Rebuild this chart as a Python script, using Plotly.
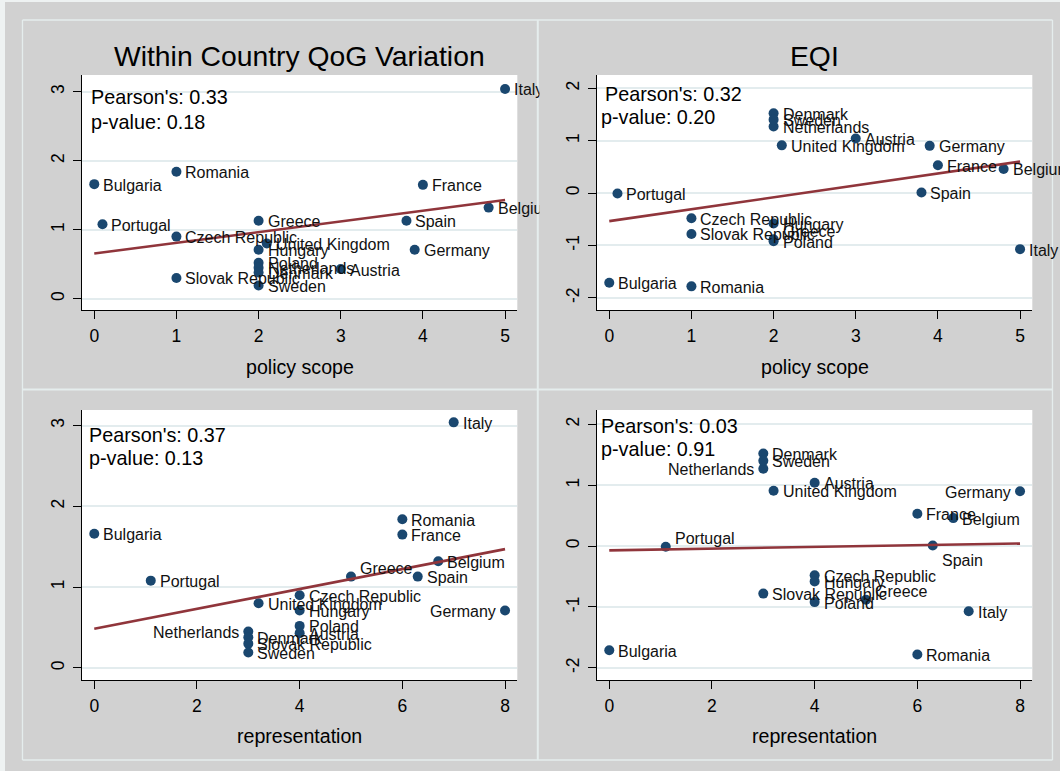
import numpy as np
import plotly.graph_objects as go

# ---------------- data ----------------
countries = ["Italy", "Romania", "Bulgaria", "France", "Belgium", "Greece", "Spain",
             "Portugal", "Czech Republic", "United Kingdom", "Hungary", "Germany",
             "Poland", "Netherlands", "Austria", "Denmark", "Slovak Republic", "Sweden"]
qog_variation = [3.04, 1.84, 1.66, 1.65, 1.32, 1.13, 1.13, 1.08, 0.90, 0.80, 0.71, 0.71,
                 0.52, 0.45, 0.43, 0.38, 0.30, 0.19]
eqi = [-1.07, -1.78, -1.71, 0.53, 0.46, -0.88, 0.01, -0.01, -0.48, 0.91, -0.58, 0.90,
       -0.92, 1.27, 1.04, 1.52, -0.78, 1.40]
policy_scope = [5, 1, 0, 4, 4.8, 2, 3.8, 0.1, 1, 2.1, 2, 3.9, 2, 2, 3, 2, 1, 2]
representation = [7, 6, 0, 6, 6.7, 5, 6.3, 1.1, 4, 3.2, 4, 8, 4, 3, 4, 3, 3, 3]

panel_titles = ["Within Country QoG Variation", "EQI", "", ""]
x_titles = ["policy scope", "policy scope", "representation", "representation"]
pearson_r = ["0.33", "0.32", "0.37", "0.03"]
p_values = ["0.18", "0.20", "0.13", "0.91"]
x_ticks_scope = [0, 1, 2, 3, 4, 5]
x_ticks_repr = [0, 2, 4, 6, 8]
y_ticks_qog = [0, 1, 2, 3]
y_ticks_eqi = [-2, -1, 0, 1, 2]

# ---------------- style / layout ----------------
W, H = 1060, 771
BG = "#d1d1d1"
BORDER = "#e5eded"
NAVY = "#1a476f"
MAROON = "#90353b"
GRID = "#e3ecee"
FONT = "Liberation Sans, Arial, sans-serif"


def px(v):
    return v / W


def py(v):
    return 1 - v / H


panels = [
    dict(x=policy_scope, y=qog_variation, xt=x_ticks_scope, yt=y_ticks_qog,
         xdom=(81.7, 517.3), ydom=(75, 310), xr=(-0.153, 5.149), yr=(-0.164, 3.242),
         pear=((88.8, 96.5), (88.8, 121.5)), title_y=56, xt_y=366.5),
    dict(x=policy_scope, y=eqi, xt=x_ticks_scope, yt=y_ticks_eqi,
         xdom=(596.7, 1032.3), ydom=(75, 310), xr=(-0.153, 5.149), yr=(-2.231, 2.252),
         pear=((602.8, 94.2), (599.3, 117.1)), title_y=56, xt_y=366.5),
    dict(x=representation, y=qog_variation, xt=x_ticks_repr, yt=y_ticks_qog,
         xdom=(81.7, 517.3), ydom=(410, 680), xr=(-0.245, 8.239), yr=(-0.150, 3.193),
         pear=((87.4, 434.9), (87.4, 458.2)), title_y=None, xt_y=735.5),
    dict(x=representation, y=eqi, xt=x_ticks_repr, yt=y_ticks_eqi,
         xdom=(596.7, 1032.3), ydom=(410, 680), xr=(-0.245, 8.239), yr=(-2.199, 2.235),
         pear=((599.4, 425.9), (599.4, 449.2)), title_y=None, xt_y=735.5),
]

label_positions = [
    {},
    {"Greece": "upper"},
    {"Netherlands": "left", "Germany": "left", "Greece": "upper"},
    {"Netherlands": "left", "Germany": "left", "Greece": "upper",
     "Portugal": "upper", "Spain": "lower"},
]
offsets = {"right": ("left", 7, -1), "left": ("right", -7, -1),
           "upper": ("left", 7, 8), "lower": ("left", 7, -15)}

fig = go.Figure()
annotations = []
layout_axes = {}

for i, p in enumerate(panels):
    n = "" if i == 0 else str(i + 1)
    xa, ya = "x" + n, "y" + n
    # markers
    fig.add_trace(go.Scatter(x=p["x"], y=p["y"], mode="markers", xaxis=xa, yaxis=ya,
                             marker=dict(color=NAVY, size=10, line=dict(width=0)),
                             hoverinfo="skip", cliponaxis=False))
    # linear fit
    xv = np.array(p["x"], dtype=float)
    yv = np.array(p["y"], dtype=float)
    b, a = np.polyfit(xv, yv, 1)
    xs = np.array([xv.min(), xv.max()])
    fig.add_trace(go.Scatter(x=xs, y=a + b * xs, mode="lines", xaxis=xa, yaxis=ya,
                             line=dict(color=MAROON, width=2.6), hoverinfo="skip"))

    layout_axes["xaxis" + n] = dict(
        domain=[px(p["xdom"][0]), px(p["xdom"][1])], range=list(p["xr"]), anchor=ya,
        tickvals=p["xt"], ticktext=[str(t) for t in p["xt"]],
        ticks="outside", ticklen=8, tickwidth=1.3, tickcolor="black",
        showline=True, linecolor="black", linewidth=1.3, showgrid=False, zeroline=False,
        tickfont=dict(family=FONT, size=17.5, color="black"), ticklabelstandoff=2,
        fixedrange=True)
    layout_axes["yaxis" + n] = dict(
        domain=[py(p["ydom"][1]), py(p["ydom"][0])], range=list(p["yr"]), anchor=xa,
        tickvals=p["yt"], ticktext=[str(t) for t in p["yt"]],
        ticks="outside", ticklen=8, tickwidth=1.3, tickcolor="black",
        showline=True, linecolor="black", linewidth=1.3, showgrid=True, gridcolor=GRID,
        gridwidth=1.6, zeroline=False, tickangle=-90,
        tickfont=dict(family=FONT, size=17.5, color="black"), ticklabelstandoff=2,
        fixedrange=True)

    # point labels
    for name, xval, yval in zip(countries, p["x"], p["y"]):
        pos = label_positions[i].get(name, "right")
        anc, xsh, ysh = offsets[pos]
        annotations.append(dict(x=xval, y=yval, xref=xa, yref=ya, text=name,
                                showarrow=False, xanchor=anc, yanchor="middle",
                                xshift=xsh, yshift=ysh,
                                font=dict(family=FONT, size=16, color="#111111")))

    # Pearson / p-value text
    (x1, y1), (x2, y2) = p["pear"]
    annotations.append(dict(x=px(x1), y=py(y1), xref="paper", yref="paper",
                            text="Pearson's: " + pearson_r[i], showarrow=False,
                            xanchor="left", yanchor="middle",
                            font=dict(family=FONT, size=19.8, color="black")))
    annotations.append(dict(x=px(x2), y=py(y2), xref="paper", yref="paper",
                            text="p-value: " + p_values[i], showarrow=False,
                            xanchor="left", yanchor="middle",
                            font=dict(family=FONT, size=19.8, color="black")))

    cx = (p["xdom"][0] + p["xdom"][1]) / 2
    if panel_titles[i]:
        annotations.append(dict(x=px(cx), y=py(p["title_y"]), xref="paper", yref="paper",
                                text=panel_titles[i], showarrow=False, xanchor="center",
                                yanchor="middle",
                                font=dict(family=FONT, size=28.3, color="black")))
    annotations.append(dict(x=px(cx), y=py(p["xt_y"]), xref="paper", yref="paper",
                            text=x_titles[i], showarrow=False, xanchor="center",
                            yanchor="middle",
                            font=dict(family=FONT, size=19.6, color="black")))

# cover for labels spilling out of the top-left panel (clip at panel border)
annotations.append(dict(x=px(539), y=py(60), xref="paper", yref="paper", text=" ",
                        showarrow=False, xanchor="left", yanchor="top", width=18,
                        height=270, borderpad=0, bgcolor=BG))

shapes = []
# outer light strips
shapes.append(dict(type="rect", xref="paper", yref="paper", x0=0, x1=1, y0=py(2), y1=1,
                   fillcolor="#eef2f2", line=dict(width=0), layer="below"))
shapes.append(dict(type="rect", xref="paper", yref="paper", x0=0, x1=px(5), y0=0, y1=1,
                   fillcolor="#eef2f2", line=dict(width=0), layer="below"))
# panel borders
for xv_ in (22.5, 1052.5):
    shapes.append(dict(type="line", xref="paper", yref="paper", x0=px(xv_), x1=px(xv_),
                       y0=py(760), y1=py(20), line=dict(color=BORDER, width=1.3)))
shapes.append(dict(type="line", xref="paper", yref="paper", x0=px(537.8), x1=px(537.8),
                   y0=py(760), y1=py(20), line=dict(color=BORDER, width=2)))
for yv_ in (20, 760):
    shapes.append(dict(type="line", xref="paper", yref="paper", x0=px(22.5), x1=px(1052.5),
                       y0=py(yv_), y1=py(yv_), line=dict(color=BORDER, width=1.3)))
shapes.append(dict(type="line", xref="paper", yref="paper", x0=px(22.5), x1=px(1052.5),
                   y0=py(389.5), y1=py(389.5), line=dict(color=BORDER, width=2)))

fig.update_layout(
    width=W, height=H, margin=dict(l=0, r=0, t=0, b=0),
    paper_bgcolor=BG, plot_bgcolor="white", showlegend=False,
    annotations=annotations, shapes=shapes,
    font=dict(family=FONT, color="black"),
    **layout_axes,
)

fig.write_html(
    "out.html",
    config={"displayModeBar": False},
    post_script="document.body.style.margin='0';document.body.style.background='%s';" % BG,
)
